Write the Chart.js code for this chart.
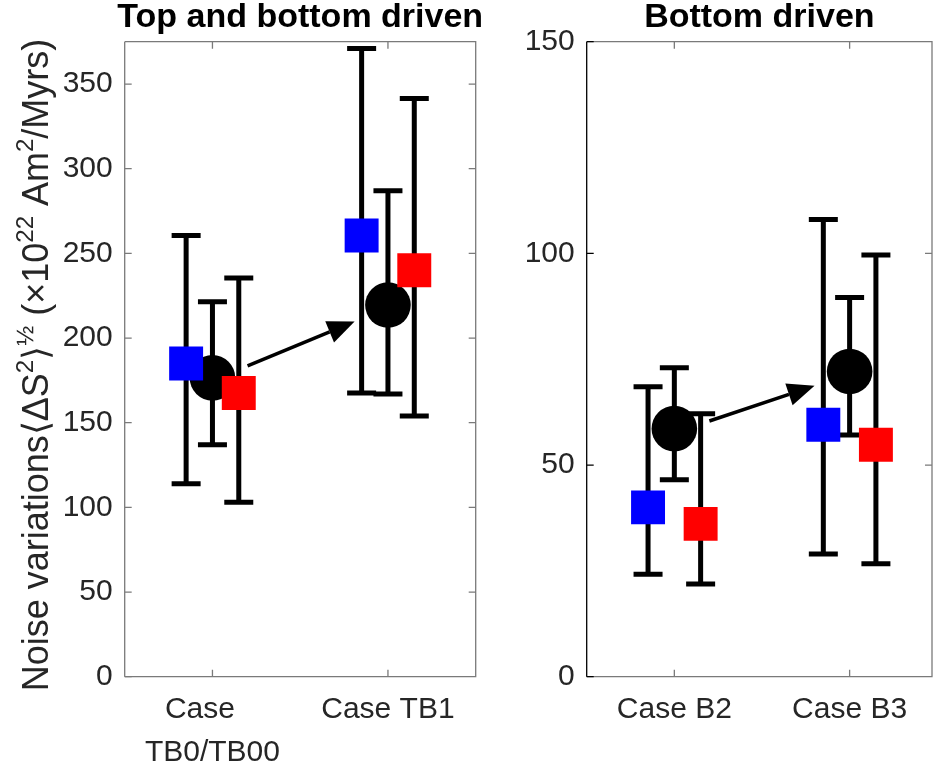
<!DOCTYPE html>
<html>
<head>
<meta charset="utf-8">
<script src="https://cdn.jsdelivr.net/npm/chart.js@4.4.1/dist/chart.umd.min.js"></script>
<style>
  html, body { margin: 0; padding: 0; background: #fff; overflow: hidden; }
  #wrap { position: relative; width: 933px; height: 770px; overflow: hidden; }
  canvas { position: absolute; top: 0; }
  #leftChart { left: 0; }
  #rightChart { left: 490px; }
</style>
</head>
<body>
<div id="wrap">
  <canvas id="leftChart" width="510" height="770"></canvas>
  <canvas id="rightChart" width="443" height="770"></canvas>
</div>
<script>
// ---- data ----
const casesLeft = [["Case\u00A0\u00A0\u00A0", "TB0/TB00"], "Case TB1"];
const casesRight = ["Case B2", "Case B3"];

const yTicksLeft = [0, 50, 100, 150, 200, 250, 300, 350];
const yTicksRight = [0, 50, 100, 150];

// top and bottom driven
const blueLeft = [185, 260.5];
const blueLeftLow = [114, 167.5];
const blueLeftHigh = [260.5, 371];
const blackLeft = [176.5, 219.5];
const blackLeftLow = [137, 167];
const blackLeftHigh = [221.5, 287];
const redLeft = [167.5, 240];
const redLeftLow = [103, 154];
const redLeftHigh = [235.5, 341.5];

// bottom driven
const blueRight = [40, 59.5];
const blueRightLow = [24.2, 29];
const blueRightHigh = [68.5, 108];
const blackRight = [58.6, 72.1];
const blackRightLow = [46.5, 57.1];
const blackRightHigh = [73, 89.6];
const redRight = [36.1, 54.8];
const redRightLow = [21.9, 26.7];
const redRightHigh = [62.1, 99.6];

// arrows (data coords): start -> end
const arrowLeftFrom = [1.2, 183.6];
const arrowLeftTo = [1.81, 209.7];
const arrowRightFrom = [1.2, 60.4];
const arrowRightTo = [1.8, 68.7];

// ---- styling ----
const FONT = '"Liberation Sans", Arial, Helvetica, sans-serif';
const TEXT = "#262626";
const BOX = "#7a7a7a";
const OFFSET = 0.15; // horizontal shift of blue / red series

Chart.defaults.font.family = FONT;

function points(values, shift) {
  return values.map((v, i) => ({ x: i + 1 + shift, y: v }));
}

const errorBars = {
  id: "errorBars",
  beforeDatasetsDraw(chart, args, opts) {
    const { ctx, scales: { x, y } } = chart;
    const half = 14.5;
    ctx.save();
    ctx.strokeStyle = "#000";
    ctx.lineWidth = 5;
    opts.series.forEach((s) => {
      s.low.forEach((lo, i) => {
        const px = x.getPixelForValue(i + 1 + s.shift);
        const pLo = y.getPixelForValue(lo);
        const pHi = y.getPixelForValue(s.high[i]);
        ctx.beginPath();
        ctx.moveTo(px, pLo);
        ctx.lineTo(px, pHi);
        ctx.moveTo(px - half, pLo);
        ctx.lineTo(px + half, pLo);
        ctx.moveTo(px - half, pHi);
        ctx.lineTo(px + half, pHi);
        ctx.stroke();
      });
    });
    ctx.restore();
  }
};

const arrow = {
  id: "arrow",
  afterDatasetsDraw(chart, args, opts) {
    const { ctx, scales: { x, y } } = chart;
    const x0 = x.getPixelForValue(opts.from[0]);
    const y0 = y.getPixelForValue(opts.from[1]);
    const x1 = x.getPixelForValue(opts.to[0]);
    const y1 = y.getPixelForValue(opts.to[1]);
    const ang = Math.atan2(y1 - y0, x1 - x0);
    const headLen = 27;
    const headHalf = 11.5;
    const bx = x1 - headLen * Math.cos(ang);
    const by = y1 - headLen * Math.sin(ang);
    ctx.save();
    ctx.strokeStyle = "#000";
    ctx.fillStyle = "#000";
    ctx.lineWidth = 3.5;
    ctx.beginPath();
    ctx.moveTo(x0, y0);
    ctx.lineTo(bx, by);
    ctx.stroke();
    ctx.beginPath();
    ctx.moveTo(x1, y1);
    ctx.lineTo(bx + headHalf * Math.sin(ang), by - headHalf * Math.cos(ang));
    ctx.lineTo(bx - headHalf * Math.sin(ang), by + headHalf * Math.cos(ang));
    ctx.closePath();
    ctx.fill();
    ctx.restore();
  }
};

// MATLAB style box with inward ticks
const frame = {
  id: "frame",
  afterDatasetsDraw(chart, args, opts) {
    const { ctx, chartArea: a, scales: { x, y } } = chart;
    const len = 7;
    ctx.save();
    ctx.lineWidth = 1.3;
    ctx.strokeStyle = BOX;
    ctx.beginPath();
    ctx.moveTo(a.left, a.top);
    ctx.lineTo(a.right, a.top);
    ctx.lineTo(a.right, a.bottom);
    ctx.lineTo(a.left, a.bottom);
    x.ticks.forEach((t) => {
      const px = x.getPixelForValue(t.value);
      ctx.moveTo(px, a.bottom);
      ctx.lineTo(px, a.bottom - len);
      ctx.moveTo(px, a.top);
      ctx.lineTo(px, a.top + len);
    });
    y.ticks.forEach((t) => {
      const py = y.getPixelForValue(t.value);
      ctx.moveTo(a.right, py);
      ctx.lineTo(a.right - len, py);
    });
    ctx.stroke();
    ctx.strokeStyle = opts.leftColor;
    ctx.beginPath();
    ctx.moveTo(a.left, a.bottom);
    ctx.lineTo(a.left, a.top);
    y.ticks.forEach((t) => {
      const py = y.getPixelForValue(t.value);
      ctx.moveTo(a.left, py);
      ctx.lineTo(a.left + len, py);
    });
    ctx.stroke();
    ctx.restore();
  }
};

// bold title centred over the plot box (no squeezing to box width)
const boxTitle = {
  id: "boxTitle",
  afterDraw(chart, args, opts) {
    const { ctx, chartArea: a } = chart;
    ctx.save();
    ctx.font = "bold 34px " + FONT;
    ctx.fillStyle = "#000";
    ctx.textAlign = "center";
    ctx.textBaseline = "alphabetic";
    ctx.fillText(opts.text, (a.left + a.right) / 2, 27);
    ctx.restore();
  }
};

// rotated y label with superscripts
const yLabel = {
  id: "yLabel",
  afterDraw(chart, args, opts) {
    if (!opts.parts) return;
    const { ctx } = chart;
    const big = "36px " + FONT;
    const small = "24px " + FONT;
    let total = 0;
    ctx.save();
    opts.parts.forEach((p) => {
      ctx.font = p.sup ? small : big;
      total += ctx.measureText(p.t).width;
    });
    ctx.translate(opts.baseline, opts.centre);
    ctx.rotate(-Math.PI / 2);
    ctx.fillStyle = TEXT;
    ctx.textBaseline = "alphabetic";
    let cx = -total / 2;
    opts.parts.forEach((p) => {
      ctx.font = p.sup ? small : big;
      ctx.fillText(p.t, cx, p.sup ? -15 : 0);
      cx += ctx.measureText(p.t).width;
    });
    ctx.restore();
  }
};

function makeChart(id, cfg) {
  const series = [
    { data: cfg.blue, low: cfg.blueLow, high: cfg.blueHigh, shift: -OFFSET, color: "#0000ff", style: "rect", r: 24, order: 2 },
    { data: cfg.black, low: cfg.blackLow, high: cfg.blackHigh, shift: 0, color: "#000000", style: "circle", r: 22.8, order: 3 },
    { data: cfg.red, low: cfg.redLow, high: cfg.redHigh, shift: OFFSET, color: "#ff0000", style: "rect", r: 24, order: 1 }
  ];
  return new Chart(document.getElementById(id), {
    type: "scatter",
    data: {
      datasets: series.map((s) => ({
        data: points(s.data, s.shift),
        pointStyle: s.style,
        pointRadius: s.r,
        pointHoverRadius: s.r,
        pointBackgroundColor: s.color,
        pointBorderWidth: 0,
        order: s.order
      }))
    },
    options: {
      responsive: false,
      animation: false,
      devicePixelRatio: 1,
      layout: { autoPadding: false, padding: { top: 41.7, left: 0, bottom: 0, right: cfg.padRight } },
      scales: {
        x: {
          type: "linear",
          min: 0.5,
          max: cfg.xMax,
          grid: { display: false },
          border: { display: false },
          afterBuildTicks: (s) => { s.ticks = [1, 2].map((v) => ({ value: v })); },
          afterFit: (s) => { s.height = 93.3; },
          ticks: {
            callback: (v, i) => cfg.cases[i],
            color: TEXT,
            font: { size: 30, lineHeight: 1.44 },
            padding: 3,
            maxRotation: 0,
            autoSkip: false
          }
        },
        y: {
          min: 0,
          max: cfg.yMax,
          grid: { display: false },
          border: { display: false },
          afterBuildTicks: (s) => { s.ticks = cfg.yTicks.map((v) => ({ value: v })); },
          afterFit: (s) => { s.width = cfg.yWidth; },
          ticks: { color: TEXT, font: { size: 30 }, padding: 4 }
        }
      },
      plugins: {
        legend: { display: false },
        tooltip: { enabled: false },
        title: { display: false },
        boxTitle: { text: cfg.title },
        errorBars: { series },
        arrow: { from: cfg.arrowFrom, to: cfg.arrowTo },
        frame: { leftColor: cfg.leftAxis },
        yLabel: { parts: cfg.label, baseline: 48, centre: 365 }
      }
    },
    plugins: [errorBars, arrow, frame, boxTitle, yLabel]
  });
}

makeChart("leftChart", {
  title: "Top and bottom driven",
  cases: casesLeft,
  yTicks: yTicksLeft,
  yMax: 375,
  xMax: 2.5,
  yWidth: 124.7,
  padRight: 34.3,
  leftAxis: BOX,
  blue: blueLeft, blueLow: blueLeftLow, blueHigh: blueLeftHigh,
  black: blackLeft, blackLow: blackLeftLow, blackHigh: blackLeftHigh,
  red: redLeft, redLow: redLeftLow, redHigh: redLeftHigh,
  arrowFrom: arrowLeftFrom,
  arrowTo: arrowLeftTo,
  label: [
    { t: "Noise variations" },
    { t: "\u27E8\u0394S" },
    { t: "2", sup: true },
    { t: "\u27E9" },
    { t: "\u00BD", sup: true },
    { t: " (\u00D710" },
    { t: "22", sup: true },
    { t: " Am" },
    { t: "2", sup: true },
    { t: "/Myrs)" }
  ]
});

makeChart("rightChart", {
  title: "Bottom driven",
  cases: casesRight,
  yTicks: yTicksRight,
  yMax: 150,
  xMax: 2.47,
  yWidth: 96.7,
  padRight: 1,
  leftAxis: "#000",
  blue: blueRight, blueLow: blueRightLow, blueHigh: blueRightHigh,
  black: blackRight, blackLow: blackRightLow, blackHigh: blackRightHigh,
  red: redRight, redLow: redRightLow, redHigh: redRightHigh,
  arrowFrom: arrowRightFrom,
  arrowTo: arrowRightTo,
  label: null
});
</script>
</body>
</html>
